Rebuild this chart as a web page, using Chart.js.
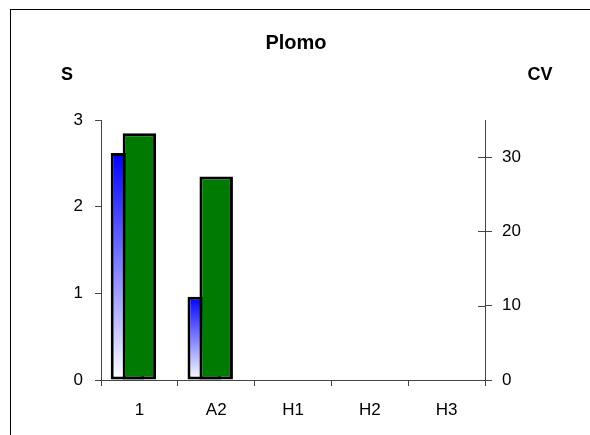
<!DOCTYPE html>
<html>
<head>
<meta charset="utf-8">
<script src="https://cdn.jsdelivr.net/npm/chart.js@4/dist/chart.umd.min.js"></script>
<style>
  html, body { margin: 0; padding: 0; background: #fff; overflow: hidden; width: 590px; height: 435px; }
  #frame { position: absolute; left: 10px; top: 9px; width: 640px; height: 480px; border: 1px solid #000; }
  #wrap { position: absolute; left: 0; top: 0; width: 590px; height: 435px; }
</style>
</head>
<body>
<div id="frame"></div>
<div id="wrap"><canvas id="c" width="590" height="435"></canvas></div>
<script>
const chartTitle = 'Plomo';
const leftAxisTitle = 'S';
const rightAxisTitle = 'CV';
const categories = ['1', 'A2', 'H1', 'H2', 'H3'];
const sValues = [2.62, 0.96, null, null, null];
const cvValues = [33.2, 27.4, null, null, null];
const spacerValues = [null, null, null, null, null];
const leftTicks = [0, 1, 2, 3];
const rightTicks = [0, 10, 20, 30];

const FONT = '"Liberation Sans", Arial, sans-serif';
const AXIS_COLOR = '#444';

function blueGradient(ctx) {
  const chart = ctx.chart;
  if (!chart.chartArea || ctx.raw == null || ctx.type !== 'data') return '#2020ff';
  const y = chart.scales.y;
  const top = y.getPixelForValue(ctx.raw);
  const bottom = y.getPixelForValue(0);
  const g = chart.ctx.createLinearGradient(0, bottom, 0, top);
  g.addColorStop(0, '#ffffff');
  g.addColorStop(1, '#0000ff');
  return g;
}

const textPlugin = {
  id: 'texts',
  afterDraw(chart) {
    const c = chart.ctx;
    const a = chart.chartArea;
    c.save();
    c.fillStyle = '#000';
    c.textBaseline = 'middle';
    c.textAlign = 'center';
    c.font = 'bold 20px ' + FONT;
    c.fillText(chartTitle, 296, 43);
    c.font = 'bold 18px ' + FONT;
    c.fillText(leftAxisTitle, 67, 75);
    c.fillText(rightAxisTitle, 540, 75);
    // inner half of the crossing tick marks on the right axis
    const y1 = chart.scales.y1;
    c.strokeStyle = AXIS_COLOR;
    c.lineWidth = 1;
    c.beginPath();
    y1.ticks.forEach(t => {
      const py = Math.round(y1.getPixelForValue(t.value)) + 0.5;
      c.moveTo(a.right - 7, py);
      c.lineTo(a.right, py);
    });
    c.stroke();
    c.restore();
  }
};

new Chart(document.getElementById('c'), {
  type: 'bar',
  data: {
    labels: categories,
    datasets: [
      {
        label: 'S',
        data: sValues,
        yAxisID: 'y',
        backgroundColor: blueGradient,
        borderColor: '#000',
        borderWidth: 3,
        borderSkipped: false,
        grouped: true,
        categoryPercentage: 0.62,
        barPercentage: 1.41,
        order: 2
      },
      {
        label: '',
        data: spacerValues,
        yAxisID: 'y',
        grouped: true,
        categoryPercentage: 0.62,
        barPercentage: 1.41,
        order: 3
      },
      {
        label: 'CV',
        data: cvValues,
        yAxisID: 'y1',
        backgroundColor: '#007a00',
        borderColor: '#000',
        borderWidth: 3,
        borderSkipped: false,
        grouped: false,
        categoryPercentage: 0.436,
        barPercentage: 1,
        order: 1
      }
    ]
  },
  options: {
    responsive: false,
    animation: false,
    devicePixelRatio: 1,
    layout: { padding: { top: 120, left: 0, right: 0, bottom: 0 } },
    plugins: { legend: { display: false }, title: { display: false }, tooltip: { enabled: false } },
    scales: {
      x: {
        offset: true,
        grid: { offset: true, drawOnChartArea: false, drawTicks: true, tickLength: 6, color: AXIS_COLOR },
        border: { display: true, color: AXIS_COLOR },
        ticks: { color: '#000', font: { family: FONT, size: 17 }, padding: 14, maxRotation: 0 },
        afterFit(s) { s.height = 55; }
      },
      y: {
        position: 'left',
        min: 0, max: 3,
        grid: { drawOnChartArea: false, tickLength: 6, color: AXIS_COLOR },
        border: { display: true, color: AXIS_COLOR },
        afterBuildTicks(s) { s.ticks = leftTicks.map(v => ({ value: v })); },
        ticks: { color: '#000', font: { family: FONT, size: 17 }, padding: 12 },
        afterFit(s) { s.width = 101; }
      },
      y1: {
        position: 'right',
        min: 0, max: 35,
        grid: { drawOnChartArea: false, tickLength: 7, color: AXIS_COLOR },
        border: { display: true, color: AXIS_COLOR },
        afterBuildTicks(s) { s.ticks = rightTicks.map(v => ({ value: v })); },
        ticks: { color: '#000', font: { family: FONT, size: 17 }, padding: 10 },
        afterFit(s) { s.width = 105; }
      }
    }
  },
  plugins: [textPlugin]
});
</script>
</body>
</html>
